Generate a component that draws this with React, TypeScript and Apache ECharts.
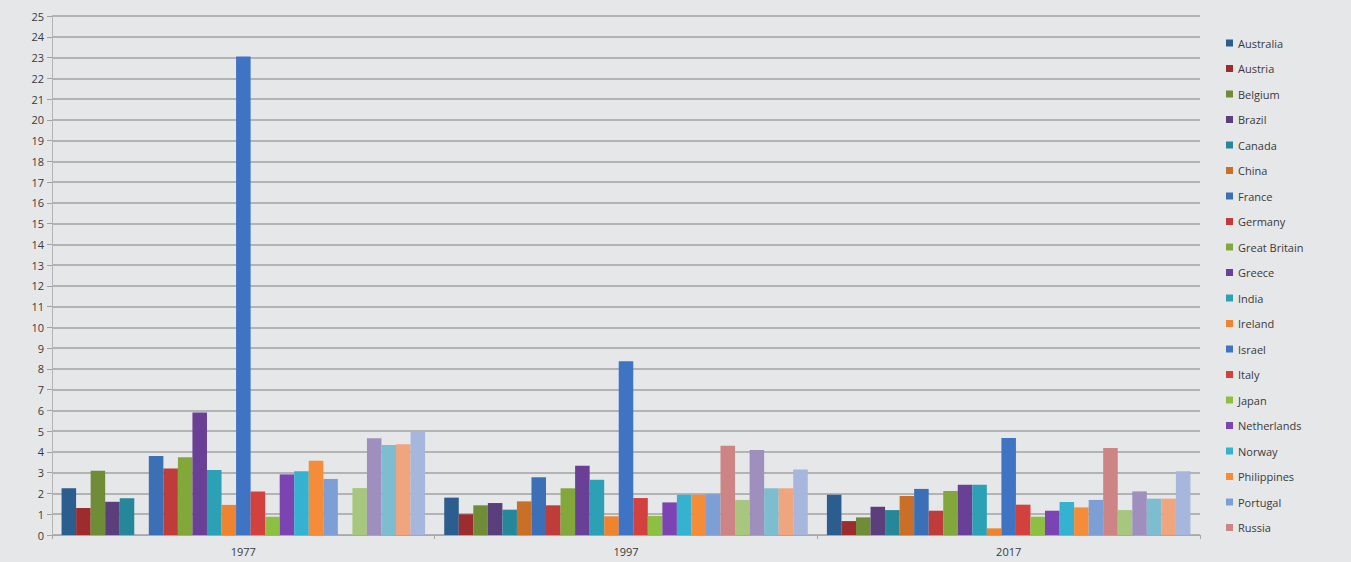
import React, { useEffect, useRef } from "react";
import * as echarts from "echarts";

const categories = ["1977", "1997", "2017"];

const seriesNames = [
  "Australia", "Austria", "Belgium", "Brazil", "Canada", "China", "France",
  "Germany", "Great Britain", "Greece", "India", "Ireland", "Israel", "Italy",
  "Japan", "Netherlands", "Norway", "Philippines", "Portugal", "Russia",
  "Spain", "Sweden", "Switzerland", "Turkey", "USA",
];

const legendNames = seriesNames.slice(0, 20);

const values1977 = [
  2.25, 1.3, 3.1, 1.6, 1.77, null, 3.8, 3.2, 3.74, 5.9, 3.13, 1.45, 23.05,
  2.09, 0.88, 2.92, 3.07, 3.58, 2.7, null, 2.26, 4.66, 4.34, 4.37, 5.0,
];
const values1997 = [
  1.8, 1.0, 1.43, 1.54, 1.22, 1.62, 2.78, 1.43, 2.25, 3.34, 2.66, 0.9, 8.37,
  1.78, 0.92, 1.57, 1.94, 1.94, 1.97, 4.3, 1.69, 4.09, 2.25, 2.25, 3.16,
];
const values2017 = [
  1.94, 0.67, 0.85, 1.36, 1.2, 1.88, 2.22, 1.17, 2.12, 2.42, 2.42, 0.32, 4.67,
  1.46, 0.88, 1.17, 1.59, 1.33, 1.69, 4.19, 1.2, 2.1, 1.75, 1.75, 3.07,
];

const colors = [
  "#2B5D8E", "#9B2D2E", "#6F8C36", "#5B3F7C", "#27879A", "#C96F28",
  "#3B6FB6", "#BE3C3A", "#82A83C", "#6A3F96", "#2CA1B6", "#EE8430",
  "#3F74C4", "#D2413E", "#8DC042", "#7B44B2", "#34B2D0", "#F48C3A",
  "#7E9ED6", "#CC8584", "#A7C77E", "#9E8FBF", "#7EBCD0", "#EFA57E",
  "#A6B6DC",
];

export default function App() {
  const ref = useRef<HTMLDivElement>(null);

  useEffect(() => {
    if (!ref.current) return;
    const chart = echarts.init(ref.current, null, { renderer: "svg" });
    const series = seriesNames.map((name, i) => ({
      name,
      type: "bar",
      data: [values1977[i], values1997[i], values2017[i]],
      itemStyle: { color: colors[i] },
      barGap: "0%",
      barCategoryGap: "5%",
    }));
    chart.setOption({
      animation: false,
      backgroundColor: "#E6E7E9",
      color: colors,
      textStyle: { fontFamily: "Open Sans, sans-serif" },
      grid: { left: 52, right: 151, top: 16, bottom: 27, containLabel: false },
      legend: {
        data: legendNames,
        orient: "vertical",
        left: 1221,
        top: 31,
        icon: "rect",
        itemWidth: 7,
        itemHeight: 7,
        itemGap: 11.5,
        textStyle: { fontSize: 11, color: "#3A3A3A", lineHeight: 14 },
      },
      xAxis: {
        type: "category",
        data: categories,
        axisLine: { show: true, lineStyle: { color: "#A8A8A8", width: 1 } },
        axisTick: { show: true, alignWithLabel: false, length: 4, lineStyle: { color: "#A8A8A8" } },
        axisLabel: { fontSize: 11, color: "#3A3A3A", margin: 11 },
        splitLine: { show: false },
      },
      yAxis: {
        type: "value",
        min: 0,
        max: 25,
        interval: 1,
        axisLine: { show: true, lineStyle: { color: "#B4B4B4", width: 1 } },
        axisTick: { show: true, length: 5, lineStyle: { color: "#A0A0A0" } },
        axisLabel: { fontSize: 11, color: "#3A3A3A", margin: 8 },
        splitLine: { show: true, lineStyle: { color: "#A2A2A2", width: 1.5 } },
      },
      series,
    });
    return () => chart.dispose();
  }, []);

  return (
    <div
      ref={ref}
      style={{ width: 1351, height: 562, position: "absolute", left: 0, top: 0 }}
    />
  );
}
